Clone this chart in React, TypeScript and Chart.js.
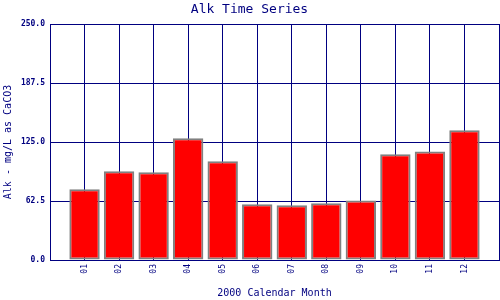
import React, { useEffect, useRef } from "react";
import { Chart, registerables } from "chart.js";

Chart.register(...registerables);

const months = ["01", "02", "03", "04", "05", "06", "07", "08", "09", "10", "11", "12"];
const alkValues = [75, 94, 93, 129, 104.5, 59, 58, 60, 63, 112, 115, 137.5];
const yTicks = [0, 62.5, 125, 187.5, 250];

const NAVY = "#000080";
const FONT = "'DejaVu Sans Mono', monospace";

export default function App() {
  const ref = useRef<HTMLCanvasElement | null>(null);

  useEffect(() => {
    document.body.style.margin = "0";
    const labels = ["", ...months, ""];
    const data = [null, ...alkValues, null];
    const chart = new Chart(ref.current!, {
      type: "bar",
      data: {
        labels,
        datasets: [
          {
            data,
            backgroundColor: "#ff0000",
            borderColor: "#808080",
            borderWidth: 2,
            borderSkipped: false,
            barPercentage: 0.88,
            categoryPercentage: 1,
          },
        ],
      },
      options: {
        animation: false,
        responsive: false,
        maintainAspectRatio: false,
        layout: { padding: { left: 0, right: 1, top: 0, bottom: 0 } },
        plugins: {
          legend: { display: false },
          tooltip: { enabled: false },
          title: {
            display: true,
            text: "Alk Time Series",
            color: NAVY,
            font: { family: FONT, size: 13, weight: "normal" },
            padding: { top: 2, bottom: 6.4 },
          },
        },
        scales: {
          x: {
            type: "category",
            offset: false,
            grid: { color: NAVY, lineWidth: 1, drawTicks: false, offset: false },
            border: { color: NAVY, width: 1 },
            ticks: {
              color: NAVY,
              font: { family: FONT, size: 8 },
              maxRotation: 90,
              minRotation: 90,
              padding: 4,
              autoSkip: false,
            },
            title: {
              display: true,
              text: "2000 Calendar Month",
              color: NAVY,
              font: { family: FONT, size: 10 },
              padding: { top: 0, bottom: 1 },
            },
            afterFit: (s: any) => {
              s.height = 40;
              s.paddingLeft = 0;
              s.paddingRight = 0;
            },
          },
          y: {
            min: 0,
            max: 250,
            grid: { color: NAVY, lineWidth: 1, drawTicks: false },
            border: { color: NAVY, width: 1 },
            afterBuildTicks: (s: any) => {
              s.ticks = yTicks.map((v) => ({ value: v }));
            },
            ticks: {
              color: NAVY,
              font: { family: FONT, size: 8, weight: "bold" },
              padding: 5,
              callback: (v: any) => Number(v).toFixed(1),
            },
            title: {
              display: true,
              text: "Alk - mg/L as CaCO3",
              color: NAVY,
              font: { family: FONT, size: 10 },
              padding: { top: 2, bottom: 0 },
            },
            afterFit: (s: any) => {
              s.width = 50;
              s.paddingTop = 0;
              s.paddingBottom = 0;
            },
          },
        },
      },
      plugins: [
        {
          id: "bg",
          beforeDraw: (c: any) => {
            const ctx = c.ctx;
            ctx.save();
            ctx.fillStyle = "#ffffff";
            ctx.fillRect(0, 0, c.width, c.height);
            ctx.restore();
          },
        },
      ],
    });
    return () => chart.destroy();
  }, []);

  return (
    <div style={{ position: "absolute", left: 0, top: 0, width: 500, height: 300 }}>
      <canvas ref={ref} width={500} height={300} style={{ width: 500, height: 300 }} />
    </div>
  );
}
